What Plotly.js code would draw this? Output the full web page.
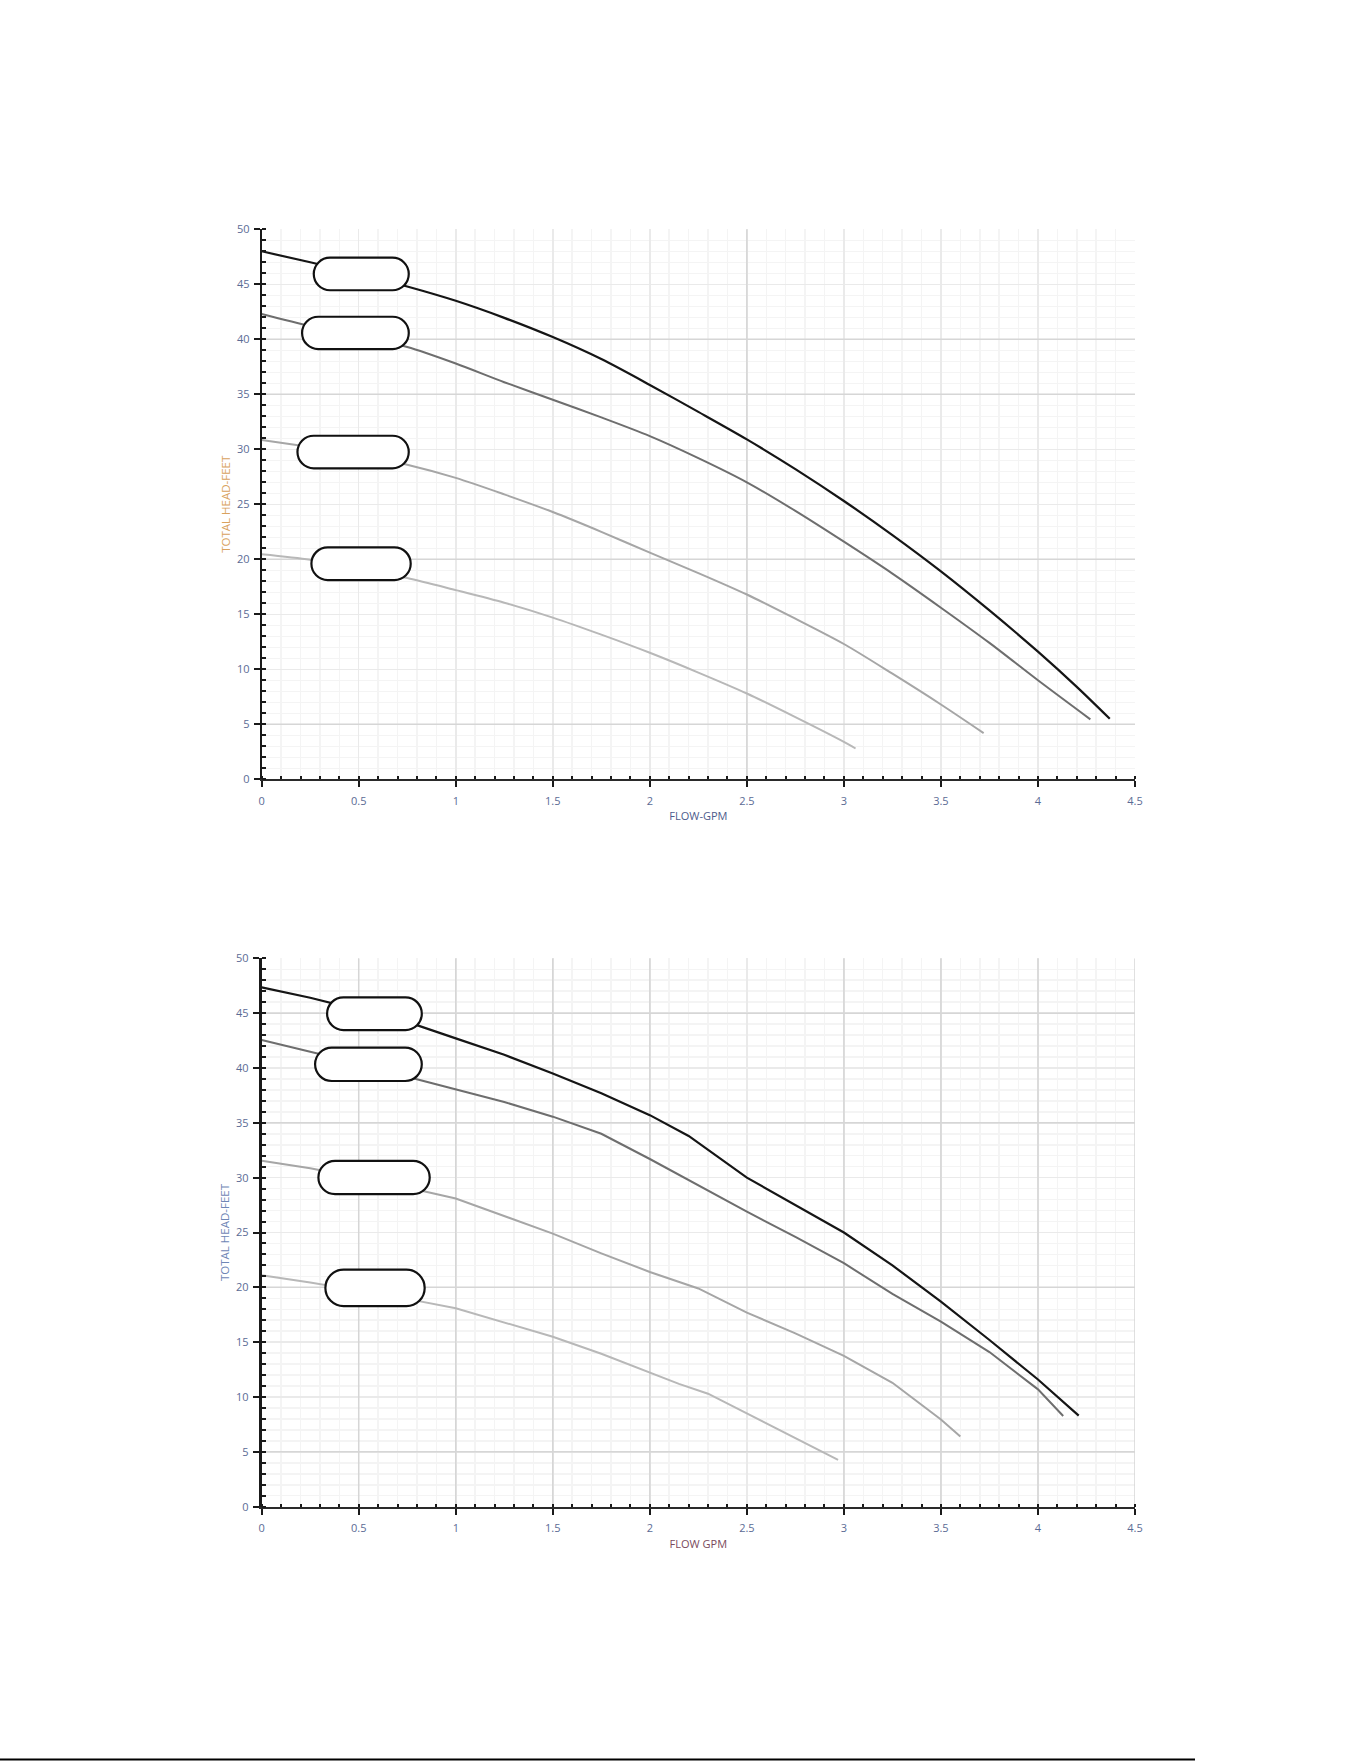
<!DOCTYPE html>
<html>
<head>
<meta charset="utf-8">
<script src="https://cdn.plot.ly/plotly-3.0.1.min.js"></script>
<style>
html,body{margin:0;padding:0;background:#fff;}
#chart{width:1361px;height:1761px;}
</style>
</head>
<body>
<div id="chart"></div>
<script>
// ---------- data ----------
var xTickVals = [0, 0.5, 1, 1.5, 2, 2.5, 3, 3.5, 4, 4.5];
var xTickText = ["0", "0.5", "1", "1.5", "2", "2.5", "3", "3.5", "4", "4.5"];
var yTickVals = [0, 5, 10, 15, 20, 25, 30, 35, 40, 45, 50];
var yTickText = ["0", "5", "10", "15", "20", "25", "30", "35", "40", "45", "50"];

// Chart 1 (top)
var c1aX = [0, 0.25, 0.5, 0.75, 1.0, 1.25, 1.5, 1.75, 2.0, 2.25, 2.5, 2.75, 3.0, 3.25, 3.5, 3.75, 4.0, 4.2, 4.37];
var c1aY = [48.0, 47.0, 45.95, 44.8, 43.5, 41.95, 40.2, 38.2, 35.85, 33.4, 30.9, 28.2, 25.3, 22.2, 18.9, 15.35, 11.6, 8.4, 5.5];
var c1bX = [0, 0.25, 0.5, 0.75, 1.0, 1.25, 1.5, 1.75, 2.0, 2.25, 2.5, 2.75, 3.0, 3.25, 3.5, 3.75, 4.0, 4.27];
var c1bY = [42.3, 41.2, 40.3, 39.3, 37.8, 36.1, 34.5, 32.9, 31.2, 29.2, 27.0, 24.4, 21.6, 18.7, 15.6, 12.4, 9.0, 5.45];
var c1cX = [0, 0.25, 0.5, 0.75, 1.0, 1.25, 1.5, 1.75, 2.0, 2.25, 2.5, 2.75, 3.0, 3.25, 3.5, 3.72];
var c1cY = [30.85, 30.2, 29.5, 28.6, 27.4, 25.9, 24.3, 22.5, 20.6, 18.75, 16.8, 14.6, 12.3, 9.6, 6.8, 4.2];
var c1dX = [0, 0.25, 0.5, 0.75, 1.0, 1.25, 1.5, 1.75, 2.0, 2.25, 2.5, 2.75, 3.0, 3.06];
var c1dY = [20.45, 19.95, 19.15, 18.3, 17.2, 16.05, 14.7, 13.15, 11.5, 9.7, 7.8, 5.65, 3.4, 2.8];

// Chart 2 (bottom)
var c2aX = [0, 0.25, 0.5, 0.75, 1.0, 1.25, 1.5, 1.75, 2.0, 2.2, 2.5, 2.75, 3.0, 3.25, 3.5, 3.75, 4.0, 4.21];
var c2aY = [47.35, 46.4, 45.3, 44.2, 42.7, 41.2, 39.5, 37.7, 35.7, 33.8, 30.0, 27.5, 25.0, 22.0, 18.7, 15.2, 11.6, 8.3];
var c2bX = [0, 0.25, 0.5, 0.75, 1.0, 1.25, 1.5, 1.75, 2.0, 2.25, 2.5, 2.75, 3.0, 3.25, 3.5, 3.75, 4.0, 4.13];
var c2bY = [42.55, 41.5, 40.4, 39.2, 38.05, 36.9, 35.56, 34.0, 31.7, 29.3, 26.9, 24.6, 22.2, 19.4, 16.87, 14.1, 10.7, 8.27];
var c2cX = [0, 0.25, 0.5, 0.75, 1.0, 1.25, 1.5, 1.75, 2.0, 2.25, 2.5, 2.75, 3.0, 3.25, 3.5, 3.6];
var c2cY = [31.55, 30.85, 30.0, 29.1, 28.1, 26.5, 24.9, 23.1, 21.4, 19.9, 17.7, 15.8, 13.75, 11.3, 7.95, 6.4];
var c2dX = [0, 0.25, 0.5, 0.75, 1.0, 1.25, 1.5, 1.75, 2.0, 2.15, 2.3, 2.5, 2.75, 2.97];
var c2dY = [21.1, 20.45, 19.7, 18.95, 18.09, 16.8, 15.5, 13.95, 12.2, 11.2, 10.3, 8.5, 6.2, 4.26];

// stronger grid lines seen in each chart
var grid1X = [2.5];
var grid1Y = [5, 20, 35, 40];
var grid2X = [0.5, 1, 1.5, 2, 3, 3.5, 4, 4.5];
var grid2Y = [5, 20, 35, 45];

// ---------- styles ----------
var tickColor = '#5b6b95';
var font = 'Open Sans, Liberation Sans, sans-serif';

function curve(x, y, color, width, xa, ya, shape) {
  return {
    type: 'scatter', mode: 'lines', x: x, y: y, xaxis: xa, yaxis: ya,
    line: {color: color, width: width, shape: shape, smoothing: 0.8},
    hoverinfo: 'skip', showlegend: false
  };
}

var traces = [
  curve(c1aX, c1aY, '#151515', 2.2, 'x', 'y', 'spline'),
  curve(c1bX, c1bY, '#6e6e6e', 2, 'x', 'y', 'spline'),
  curve(c1cX, c1cY, '#a6a6a6', 2, 'x', 'y', 'spline'),
  curve(c1dX, c1dY, '#b8b8b8', 2, 'x', 'y', 'spline'),
  curve(c2aX, c2aY, '#151515', 2.2, 'x2', 'y2', 'linear'),
  curve(c2bX, c2bY, '#6e6e6e', 2, 'x2', 'y2', 'linear'),
  curve(c2cX, c2cY, '#a6a6a6', 2, 'x2', 'y2', 'linear'),
  curve(c2dX, c2dY, '#b8b8b8', 2, 'x2', 'y2', 'linear')
];

function xAxis(domain, anchor, title, titleColor) {
  return {
    domain: domain, anchor: anchor, range: [0, 4.5], fixedrange: true,
    tickmode: 'array', tickvals: xTickVals, ticktext: xTickText,
    ticks: 'outside', ticklen: 6, tickwidth: 2, tickcolor: '#1a1a1a',
    showline: true, linecolor: '#2a2a2a', linewidth: 2,
    showgrid: true, gridcolor: '#eaeaea', gridwidth: 1.5, zeroline: false,
    minor: {dtick: 0.1, tick0: 0, ticks: 'inside', ticklen: 3, tickwidth: 2, tickcolor: '#1a1a1a',
            showgrid: true, gridcolor: '#f4f4f4', gridwidth: 1.5},
    tickfont: {family: font, size: 11, color: tickColor},
    ticklabelstandoff: 4,
    automargin: false,
    title: {text: title, standoff: 6, font: {family: font, size: 11, color: titleColor}}
  };
}
function yAxis(domain, anchor, title, titleColor, lw) {
  return {
    domain: domain, anchor: anchor, range: [0, 50], fixedrange: true,
    tickmode: 'array', tickvals: yTickVals, ticktext: yTickText,
    ticks: 'outside', ticklen: 6, tickwidth: 2, tickcolor: '#1a1a1a',
    showline: true, linecolor: '#1a1a1a', linewidth: lw,
    showgrid: true, gridcolor: '#eaeaea', gridwidth: 1.5, zeroline: false,
    minor: {dtick: 1, tick0: 0, ticks: 'inside', ticklen: 4, tickwidth: 2, tickcolor: '#1a1a1a',
            showgrid: true, gridcolor: '#f4f4f4', gridwidth: 1.5},
    tickfont: {family: font, size: 11, color: tickColor},
    ticklabelstandoff: 2,
    automargin: false,
    title: {text: title, standoff: 4, font: {family: font, size: 11.5, color: titleColor}}
  };
}

// rounded "pill" boxes (label covers), anchored in data coords, sized in pixels
function pill(cx, cy, w, h, xref, yref) {
  var r = h / 2, k = 0.5523 * r, hw = w / 2;
  var p = 'M' + (-hw + r) + ',' + r +
    ' L' + (hw - r) + ',' + r +
    ' C' + (hw - r + k) + ',' + r + ' ' + hw + ',' + k + ' ' + hw + ',0' +
    ' C' + hw + ',' + (-k) + ' ' + (hw - r + k) + ',' + (-r) + ' ' + (hw - r) + ',' + (-r) +
    ' L' + (-hw + r) + ',' + (-r) +
    ' C' + (-hw + r - k) + ',' + (-r) + ' ' + (-hw) + ',' + (-k) + ' ' + (-hw) + ',0' +
    ' C' + (-hw) + ',' + k + ' ' + (-hw + r - k) + ',' + r + ' ' + (-hw + r) + ',' + r + ' Z';
  return {
    type: 'path', xref: xref, yref: yref, xsizemode: 'pixel', ysizemode: 'pixel',
    xanchor: cx, yanchor: cy, path: p, fillcolor: '#ffffff',
    line: {color: '#111111', width: 2.2}, layer: 'above'
  };
}

function gridV(v, xref, yref) {
  return {type: 'line', xref: xref, yref: yref, x0: v, x1: v, y0: 0, y1: 50,
          line: {color: '#d6d6d6', width: 1.5}, layer: 'between'};
}
function gridH(v, xref, yref) {
  return {type: 'line', xref: xref, yref: yref, x0: 0, x1: 4.5, y0: v, y1: v,
          line: {color: '#d6d6d6', width: 1.5}, layer: 'between'};
}

var shapes = [];
grid1X.forEach(function (v) { shapes.push(gridV(v, 'x', 'y')); });
grid1Y.forEach(function (v) { shapes.push(gridH(v, 'x', 'y')); });
grid2X.forEach(function (v) { shapes.push(gridV(v, 'x2', 'y2')); });
grid2Y.forEach(function (v) { shapes.push(gridH(v, 'x2', 'y2')); });

shapes = shapes.concat([
  pill(0.513, 45.94, 95, 32.6, 'x', 'y'),
  pill(0.483, 40.58, 106.7, 32.3, 'x', 'y'),
  pill(0.471, 29.75, 111.3, 32.6, 'x', 'y'),
  pill(0.512, 19.6, 99.3, 32.7, 'x', 'y'),
  pill(0.581, 44.95, 94.7, 32.7, 'x2', 'y2'),
  pill(0.550, 40.33, 106.7, 33.3, 'x2', 'y2'),
  pill(0.579, 30.02, 111.3, 33.3, 'x2', 'y2'),
  pill(0.584, 19.95, 99.3, 36.5, 'x2', 'y2'),
  {type: 'line', xref: 'paper', yref: 'paper', x0: 0, x1: 1195 / 1361, y0: 1.5 / 1761, y1: 1.5 / 1761,
   line: {color: '#000000', width: 2}}
]);

var xd = [261.7 / 1361, 1135 / 1361];
var layout = {
  width: 1361, height: 1761,
  margin: {l: 0, r: 0, t: 0, b: 0, pad: 0},
  paper_bgcolor: '#ffffff', plot_bgcolor: '#ffffff',
  showlegend: false,
  xaxis: xAxis(xd, 'y', 'FLOW-GPM', '#4d5b8c'),
  yaxis: yAxis([1 - 779.3 / 1761, 1 - 229.3 / 1761], 'x', 'TOTAL HEAD-FEET', '#d9a25e', 2),
  xaxis2: xAxis(xd, 'y2', 'FLOW GPM', '#7a4a5c'),
  yaxis2: yAxis([1 - 1506.7 / 1761, 1 - 958.3 / 1761], 'x2', 'TOTAL HEAD-FEET', '#6f86b5', 3),
  shapes: shapes
};

Plotly.newPlot('chart', traces, layout, {staticPlot: true, displayModeBar: false});
</script>
</body>
</html>
